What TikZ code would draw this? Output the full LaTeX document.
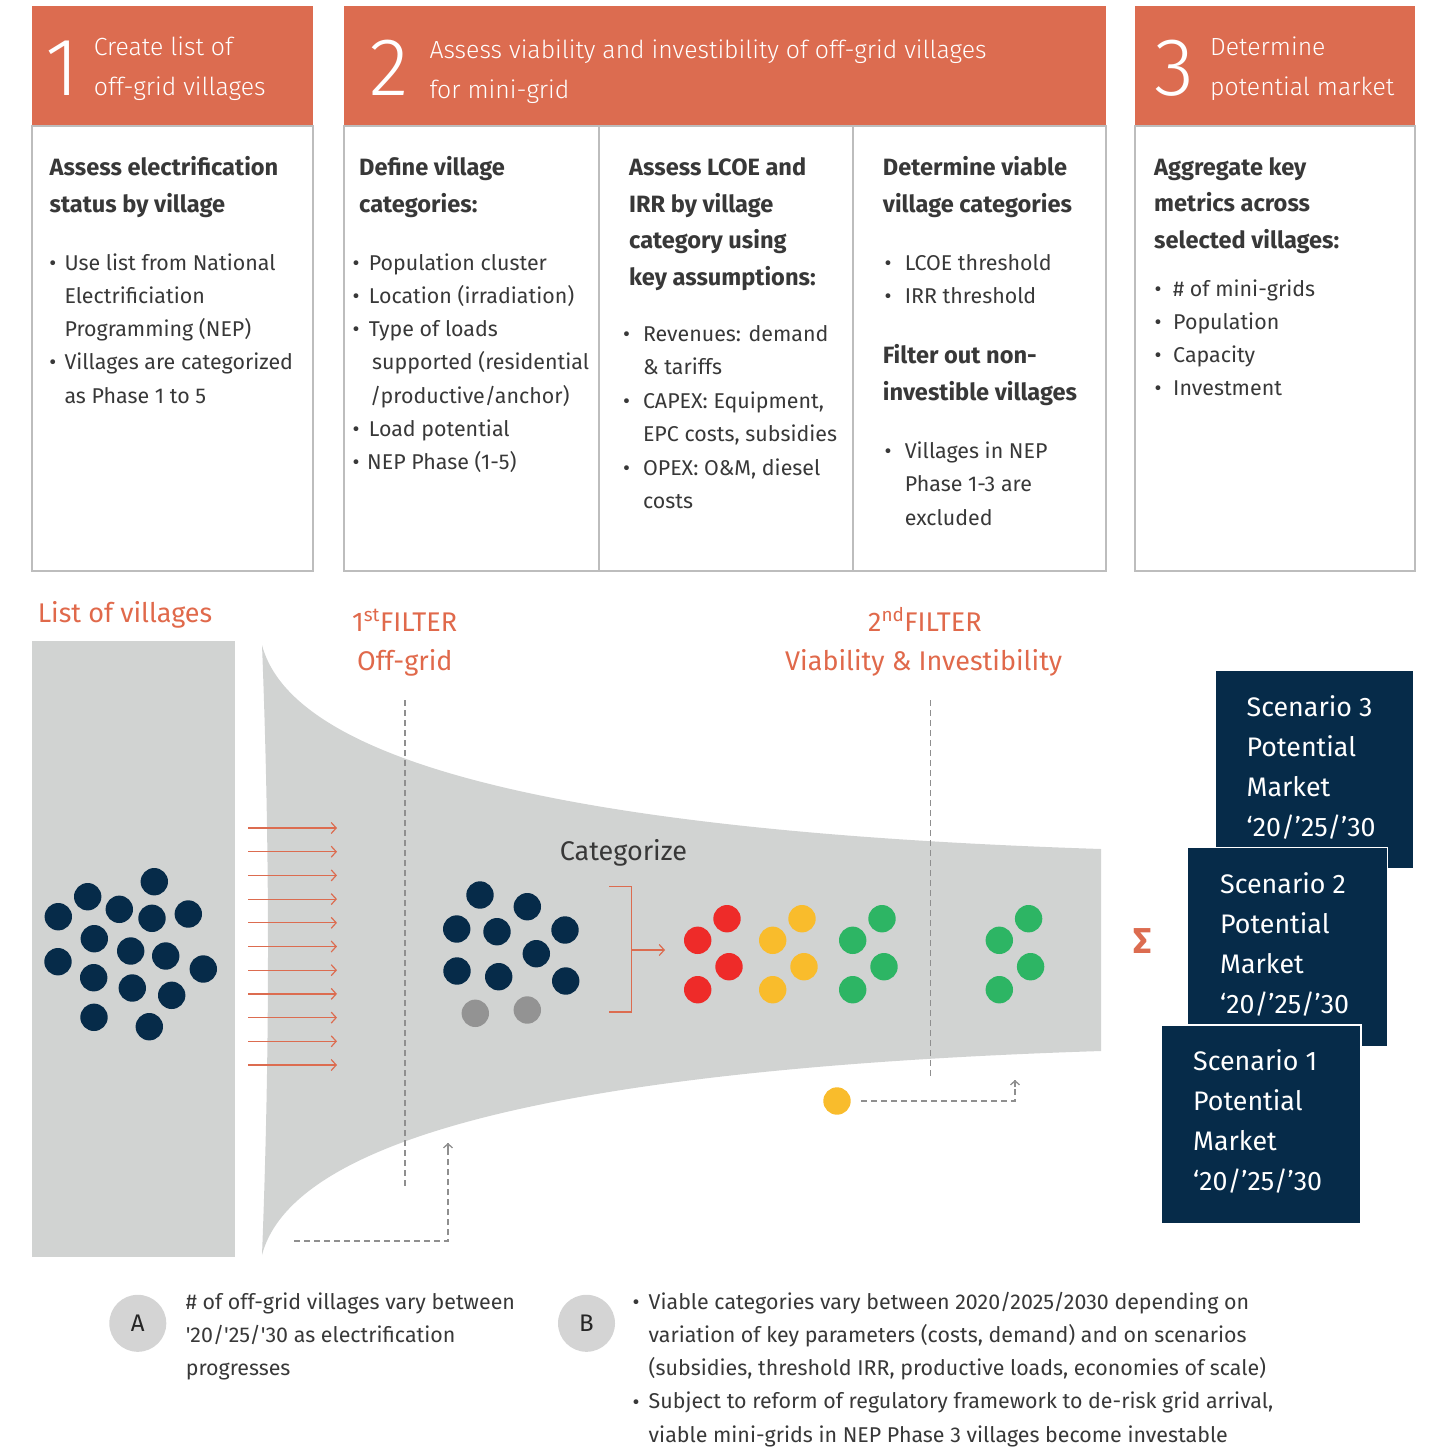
\documentclass[tikz,border=0pt]{standalone}
\usepackage{fontspec}
\setmainfont{Fira Sans}
\newfontfamily\lightf{Fira Sans Light}
\usetikzlibrary{arrows.meta}
\definecolor{hdr}{HTML}{DC6C50}
\definecolor{otxt}{HTML}{E0694B}
\definecolor{navy}{HTML}{062B49}
\definecolor{fgray}{HTML}{D1D3D2}
\definecolor{bgray}{HTML}{BDBDBD}
\definecolor{bodyc}{HTML}{383838}
\definecolor{dred}{HTML}{EE2B29}
\definecolor{dyel}{HTML}{F9BC2C}
\definecolor{dgrn}{HTML}{2DB564}
\definecolor{dgry}{HTML}{939393}
\definecolor{dashgray}{HTML}{8F8F8F}
\definecolor{cgray}{HTML}{D4D4D4}
\newcommand\fs[2]{\fontsize{#1}{#2}\selectfont}
\newcommand\mylines[6]{\foreach \t [count=\i] in {#6} {\node[#1, name=#2\i] at (#3, {#4+(\i-1)*#5}) {\t};}}
\newcommand\twolines[2]{\begin{tabular}[t]{@{}l@{}}#1\\#2\end{tabular}}
\tikzset{
 txt/.style={anchor=base west, inner sep=0, text=bodyc, font=\fs{21.4}{24}},
 hd/.style={anchor=base west, inner sep=0, text=bodyc, font=\fs{23.6}{26}\bfseries},
 bul/.style={anchor=base, inner sep=0, text=bodyc, font=\fs{21.4}{24}},
 htxt/.style={anchor=base west, inner sep=0, text=white, font=\lightf\fs{24.8}{40}},
 hnum/.style={anchor=base, inner sep=0, text=white, font=\lightf\fs{82}{90}},
 otx/.style={anchor=base west, inner sep=0, text=otxt, font=\fs{27}{32}},
 scn/.style={anchor=base west, inner sep=0, text=white, font=\fs{26.8}{30}},
 hdrbox/.style={fill=hdr},
 bodybox/.style={draw=bgray, line width=1.2pt},
 navybox/.style={fill=navy, draw=white, line width=1.5pt},
 oarr/.style={draw=hdr, line width=1.2pt, -{Straight Barb[length=5pt,width=11pt]}},
 dsh/.style={draw=dashgray, line width=1.3pt, dash pattern=on 6pt off 4pt},
 dtip/.style={-{Straight Barb[length=4pt,width=9pt]}},
}
\begin{document}
\begin{tikzpicture}[x=1pt,y=-1pt]
\useasboundingbox (0,0) rectangle (1429,1447);
% ---------- top boxes ----------
\fill[hdrbox] (32,6) rectangle (313,126);
\draw[bodybox] (32,126) rectangle (313,571);
\fill[hdrbox] (344,6) rectangle (1106,126);
\draw[bodybox] (344,126) rectangle (1106,571);
\draw[bodybox] (599,126) -- (599,571);
\draw[bodybox] (853,126) -- (853,571);
\fill[hdrbox] (1135,6) rectangle (1415,126);
\draw[bodybox] (1135,126) rectangle (1415,571);
% headers
\node[hnum] (n1) at (62,95.5) {1};
\node[htxt] (h1) at (93.7,56) {\twolines{Create list of}{off-grid villages}};
\node[hnum] (n2) at (389,95.5) {2};
\node[htxt] (h2) at (429.3,59) {\twolines{Assess viability and investibility of off-grid villages}{for mini-grid}};
\node[hnum] (n3) at (1174,95.5) {3};
\node[htxt] (h3) at (1210,56) {\twolines{Determine}{potential market}};
% box 1 body
\mylines{hd}{b1h}{49.5}{175.5}{36.7}{Assess electrification, status by village}
\node[bul] (b1b1) at (52.8,270) {•};
\node[bul] (b1b2) at (52.8,369.9) {•};
\mylines{txt}{b1t}{64.3}{270}{33.3}{Use list from National, Electrificiation, Programming (NEP), Villages are categorized, as Phase 1 to 5}
% box 2 col 1
\mylines{hd}{c1h}{359}{175.5}{36.7}{Define village, categories:}
\foreach \y [count=\i] in {270,303.3,336.6,436.5,469.8} {\node[bul, name=c1b\i] at (356,\y) {•};}
\node[txt] (c1t1) at (368.7,270) {Population cluster};
\node[txt] (c1t2) at (368.7,303.3) {Location (irradiation)};
\node[txt] (c1t3) at (368.7,336.6) {Type of loads};
\node[txt] (c1t4) at (372,369.9) {supported (residential};
\node[txt] (c1t5) at (370,403.2) {/productive/anchor)};
\node[txt] (c1t6) at (368.7,436.5) {Load potential};
\node[txt] (c1t7) at (367,469.8) {NEP Phase (1-5)};
% box 2 col 2
\mylines{hd}{c2h}{629}{175.5}{36.7}{Assess LCOE and, IRR by village, category using, key assumptions:}
\foreach \y [count=\i] in {341.5,408.3,475.1} {\node[bul, name=c2b\i] at (626.7,\y) {•};}
\mylines{txt}{c2t}{642.8}{341.5}{33.4}{Revenues: demand, \& tariffs, {CAPEX: Equipment,}, {EPC costs, subsidies}, {OPEX: O\&M, diesel}, costs}
% box 2 col 3
\mylines{hd}{c3h}{882.7}{175.5}{36.7}{Determine viable, village categories}
\foreach \y [count=\i] in {270,303.3,458} {\node[bul, name=c3b\i] at (888,\y) {•};}
\mylines{txt}{c3t}{904.6}{270}{33.3}{LCOE threshold, IRR threshold}
\mylines{hd}{c3k}{882.7}{363}{37}{Filter out non-, investible villages}
\mylines{txt}{c3u}{904.6}{458}{33.5}{Villages in NEP, Phase 1-3 are, excluded}
% box 3
\mylines{hd}{b3h}{1154}{175.5}{36.5}{Aggregate key, metrics across, selected villages:}
\foreach \y [count=\i] in {296,329.3,362.6,395.9} {\node[bul, name=b3b\i] at (1158,\y) {•};}
\mylines{txt}{b3t}{1173}{296}{33.3}{\# of mini-grids, Population, Capacity, Investment}
% ---------- funnel section ----------
\node[otx] (lov) at (37.6,622.5) {List of villages};
\fill[fgray] (32,641) rectangle (235,1257);
\fill[fgray] (262,645) .. controls (300,790) and (700,836) .. (1101,849) -- (1101,1051)
  .. controls (700,1064) and (300,1110) .. (262,1255)
  .. controls (270,1050) and (270,850) .. (262,645) -- cycle;
\node[otx] (f1a) at (352,631) {1\textsuperscript{st}FILTER};
\node[otx] (f1b) at (357,670) {Off-grid};
\node[otx] (f2a) at (868,631) {2\textsuperscript{nd}FILTER};
\node[otx] (f2b) at (785,670) {Viability \& Investibility};
\coordinate (v1t) at (405,700); \coordinate (v1b) at (405,1188);
\coordinate (v2t) at (930.7,700); \coordinate (v2b) at (930.7,1079);
\draw[dsh] (v1t) -- (v1b);
\draw[dsh] (v2t) -- (v2b);
% arrows
\foreach \y [count=\i] in {828,851.7,875.4,899.1,922.8,946.5,970.2,993.9,1017.6,1041.3,1065} {
  \coordinate (as\i) at (248,\y); \coordinate (ae\i) at (337,\y);
  \draw[oarr] (as\i) -- (ae\i);}
% left dots
\foreach \p in {(154.3,881.7),(87.7,896.7),(58.3,916.7),(119.3,909.3),(152,918.3),(188.3,914),(94.3,938.7),(130.7,951),(165.7,956),(58,961.7),(203.3,969),(93.7,977.7),(132.3,988),(171.7,995.3),(94,1017.3),(149.3,1026.7)}
  {\fill[navy] \p circle (13.7);}
% center dots
\foreach \p in {(480,895),(527.3,906.7),(456.7,929),(497,931.7),(565,930),(536.3,953.7),(457,971),(498.7,976.7),(565.7,981)}
  {\fill[navy] \p circle (13.7);}
\fill[dgry] (475.3,1013.3) circle (13.7);
\fill[dgry] (527.3,1010) circle (13.7);
\node[anchor=base west, inner sep=0, text=bodyc, font=\fs{27}{32}] (cat) at (559.6,860.6) {Categorize};
% bracket
\coordinate (br1) at (609,886.7); \coordinate (br2) at (631.3,886.7);
\coordinate (br3) at (631.3,1012); \coordinate (br4) at (609,1012);
\coordinate (brm) at (631.3,950); \coordinate (bre) at (665,950);
\draw[draw=hdr, line width=1.2pt] (br1) -- (br2) -- (br3) -- (br4);
\draw[oarr] (brm) -- (bre);
% coloured dots
\foreach \dx/\c in {0/dred,75/dyel,155/dgrn,301.6/dgrn} {
  \fill[\c] ({697.7+\dx},940.3) circle (13.7);
  \fill[\c] ({727+\dx},918.7) circle (13.7);
  \fill[\c] ({729+\dx},966.7) circle (13.7);
  \fill[\c] ({697.7+\dx},989.7) circle (13.7);}
% dashed feedback connectors
\coordinate (ya) at (294,1241); \coordinate (yb) at (448,1241); \coordinate (yc) at (448,1143);
\draw[dsh] (ya) -- (yb) -- (yc);
\draw[draw=dashgray, line width=1.3pt, dtip] (448,1150) -- (yc);
\fill[dyel] (837,1101) circle (13.7);
\coordinate (za) at (861,1101); \coordinate (zb) at (1015,1101); \coordinate (zc) at (1015,1080);
\draw[dsh] (za) -- (zb) -- (zc);
\draw[draw=dashgray, line width=1.3pt, dtip] (1015,1087) -- (zc);
% sigma
\node[anchor=base, inner sep=0, text=hdr, font=\fs{36}{40}\bfseries] (sig) at (1143,953.6) {Σ};
% scenario boxes
\draw[navybox] (1215,670) rectangle (1414,869);
\mylines{scn}{s3l}{1246.5}{716.8}{40}{Scenario 3, Potential, Market, ‘20/’25/’30}
\draw[navybox] (1187.5,847.5) rectangle (1387.5,1047);
\mylines{scn}{s2l}{1220}{893}{40}{Scenario 2, Potential, Market, ‘20/’25/’30}
\draw[navybox] (1161,1025) rectangle (1361,1224);
\mylines{scn}{s1l}{1193}{1070.5}{40}{Scenario 1, Potential, Market, ‘20/’25/’30}
% ---------- bottom notes ----------
\node[circle, fill=cgray, minimum size=57pt, inner sep=0, text=black!85, font=\fs{24}{26}] (ca) at (137.8,1323.3) {A};
\mylines{txt}{at}{185.6}{1309}{33.3}{\# of off-grid villages vary between, \textquotesingle 20/\textquotesingle 25/\textquotesingle 30 as electrification, progresses}
\node[circle, fill=cgray, minimum size=57pt, inner sep=0, text=black!85, font=\fs{24}{26}] (cb) at (586.5,1323.3) {B};
\node[bul] (bb1) at (636,1309) {•};
\node[bul] (bb2) at (636,1409) {•};
\mylines{txt}{bt}{648.5}{1309}{33.3}{Viable categories vary between 2020/2025/2030 depending on, {variation of key parameters (costs, demand) and on scenarios}, {(subsidies, threshold IRR, productive loads, economies of scale)}, {Subject to reform of regulatory framework to de-risk grid arrival,}, viable mini-grids in NEP Phase 3 villages become investable}
\end{tikzpicture}
\end{document}
